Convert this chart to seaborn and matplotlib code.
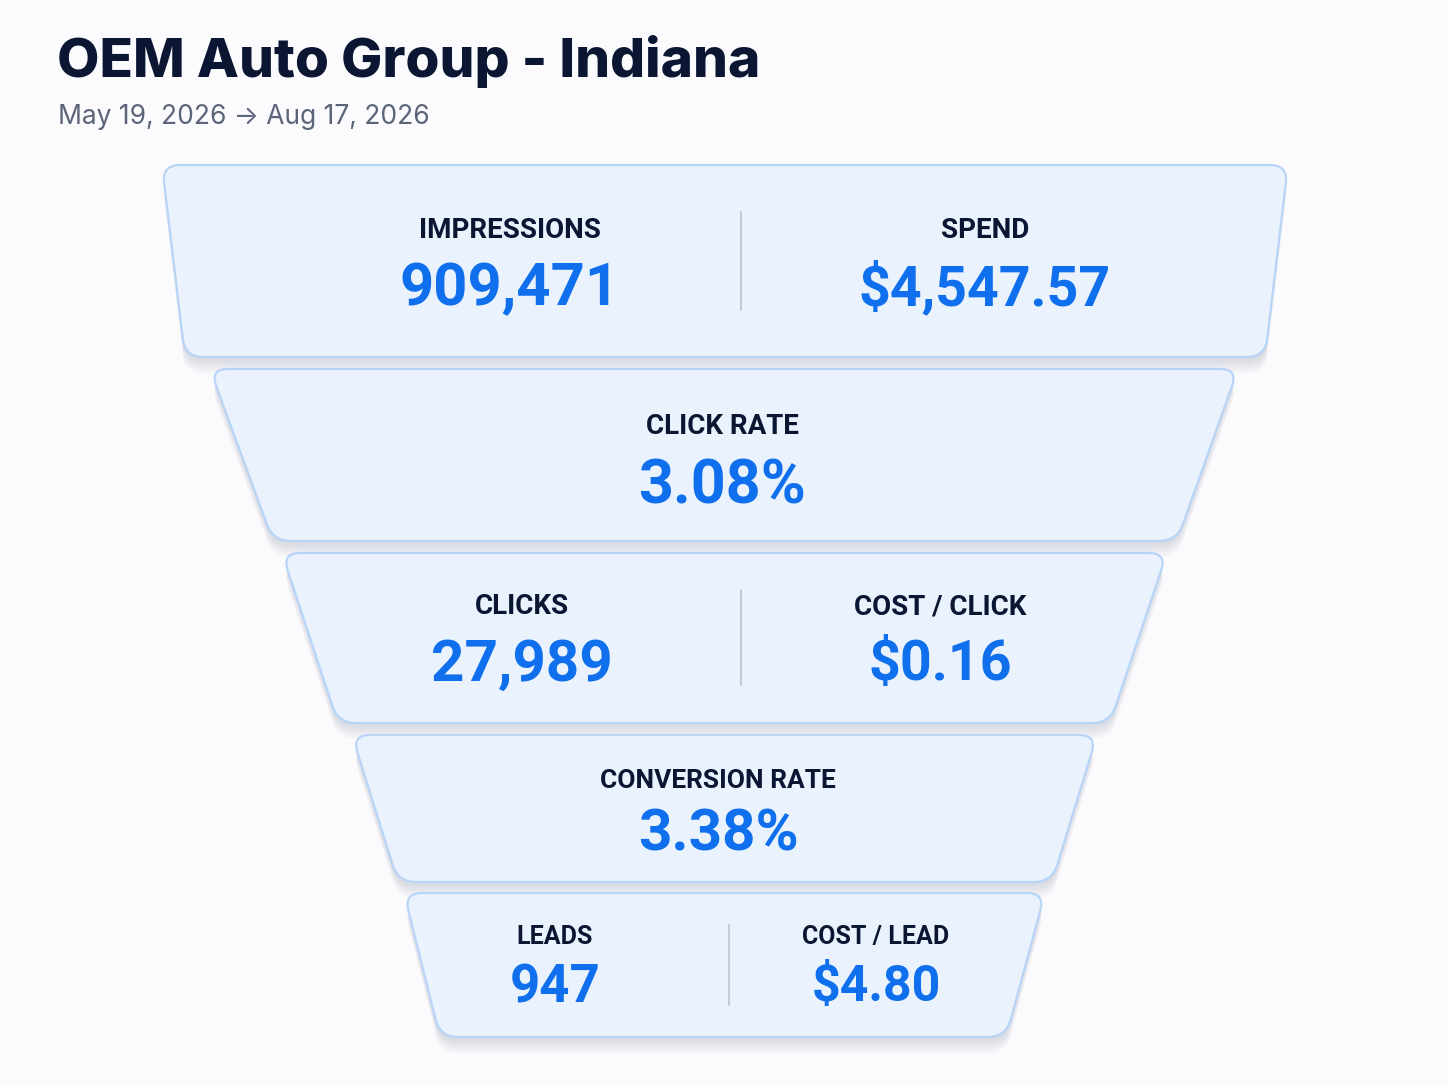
import numpy as np
import matplotlib
matplotlib.use("Agg")
import matplotlib.pyplot as plt
import seaborn as sns
from matplotlib.path import Path
from matplotlib.patches import PathPatch

# ---- data ----
title = "OEM Auto Group - Indiana"
subtitle = "May 19, 2026 \u2192 Aug 17, 2026"

impressions = 909471
spend = 4547.57
click_rate = 3.08
clicks = 27989
cost_per_click = 0.16
conversion_rate = 3.38
leads = 947
cost_per_lead = 4.80

stage_labels = [
    ["IMPRESSIONS", "SPEND"],
    ["CLICK RATE"],
    ["CLICKS", "COST / CLICK"],
    ["CONVERSION RATE"],
    ["LEADS", "COST / LEAD"],
]
stage_values = [
    [f"{impressions:,}", f"${spend:,.2f}"],
    [f"{click_rate:.2f}%"],
    [f"{clicks:,}", f"${cost_per_click:.2f}"],
    [f"{conversion_rate:.2f}%"],
    [f"{leads:,}", f"${cost_per_lead:.2f}"],
]

# ---- layout (pixel space) ----
# top, bottom, top-left, top-right, bottom-left, bottom-right
shapes = [
    (165, 357, 162, 1288, 185, 1265),
    (369, 541, 210, 1238, 273, 1177),
    (553, 723, 282, 1167, 338, 1110),
    (735, 882, 352, 1097, 398, 1052),
    (893, 1037, 404, 1045, 440, 1006),
]
text_x = [[510, 985], [722], [522, 940], [718], [555, 876]]
label_y = [230, 427, 607, 781, 937]
value_y = [289, 486, 665, 835, 988]
divider_x = [741, None, 741, None, 729]
divider_span = [(212, 310), None, (590, 685), None, (925, 1005)]
value_size = [[43, 40], [44], [42, 40], [42], [38, 36]]
label_size = [20, 20, 20, 19, 18]

FILL = "#eaf3fd"
EDGE = "#b8d4f6"
BLUE = "#0f6fec"
NAVY = "#0b1633"
GREY = "#5b6478"
BG = "#fbfbfd"


def rounded_poly(pts, r):
    verts, codes = [], []
    n = len(pts)
    for i in range(n):
        p = np.array(pts[i], float)
        a = np.array(pts[i - 1], float)
        b = np.array(pts[(i + 1) % n], float)
        u1 = (a - p) / np.linalg.norm(a - p)
        u2 = (b - p) / np.linalg.norm(b - p)
        p1 = p + u1 * r
        p2 = p + u2 * r
        verts.append(p1)
        codes.append(Path.MOVETO if i == 0 else Path.LINETO)
        verts += [p, p2]
        codes += [Path.CURVE3, Path.CURVE3]
    verts.append(verts[0])
    codes.append(Path.CLOSEPOLY)
    return Path(verts, codes)


sns.set_theme(style="white")
plt.rcParams["font.family"] = ["Roboto", "DejaVu Sans"]

fig = plt.figure(figsize=(14.48, 10.86), dpi=100)
fig.patch.set_facecolor(BG)
ax = fig.add_axes([0, 0, 1, 1])
ax.set_xlim(0, 1448)
ax.set_ylim(1086, 0)
ax.axis("off")
ax.set_facecolor(BG)

for i, (t, b, tl, tr, bl, br) in enumerate(shapes):
    pts = [(tl, t), (tr, t), (br, b), (bl, b)]
    # soft shadow
    for k in range(9):
        off = 3 + k * 1.7
        sh = [(x, y + off) for x, y in pts]
        ax.add_patch(PathPatch(rounded_poly(sh, 18), facecolor="#1e2a40",
                               edgecolor="none", alpha=0.014, zorder=1))
    ax.add_patch(PathPatch(rounded_poly(pts, 18), facecolor=FILL, edgecolor=EDGE,
                           linewidth=1.6, zorder=2))

    for j, lab in enumerate(stage_labels[i]):
        ax.text(text_x[i][j], label_y[i], lab, ha="center", va="center",
                fontsize=label_size[i], fontweight="semibold", color=NAVY, zorder=3)
        ax.text(text_x[i][j], value_y[i], stage_values[i][j], ha="center", va="center",
                fontsize=value_size[i][j], fontweight="bold", color=BLUE, zorder=3)
    if divider_x[i] is not None:
        y0, y1 = divider_span[i]
        ax.plot([divider_x[i], divider_x[i]], [y0, y1], color="#c5ccd6", lw=1.5, zorder=3)

ax.text(57, 62, title, ha="left", va="center", fontsize=39.5, fontweight="heavy",
        color=NAVY, family=["Inter", "DejaVu Sans"])
ax.text(58, 117, subtitle, ha="left", va="center", fontsize=19,
        color=GREY, family=["Inter", "DejaVu Sans"])

fig.savefig("out.png", dpi=100, facecolor=BG)
